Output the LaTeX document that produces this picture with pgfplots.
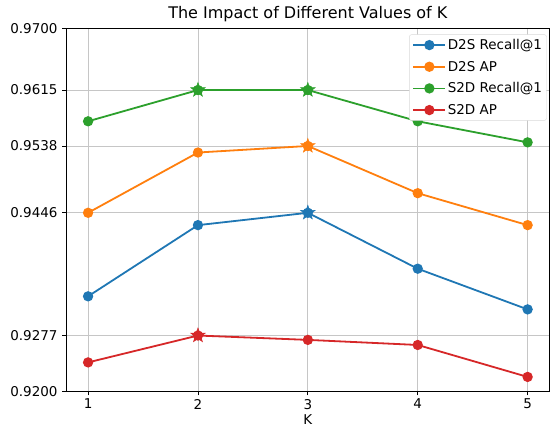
\documentclass[border=0pt]{standalone}
\usepackage{pgfplots}
\pgfplotsset{compat=1.18}
\usepackage{fontspec}
\setmainfont{DejaVu Sans}
\definecolor{tblue}{HTML}{1F77B4}
\definecolor{torange}{HTML}{FF7F0E}
\definecolor{tgreen}{HTML}{2CA02C}
\definecolor{tred}{HTML}{D62728}
\pgfdeclareplotmark{fstar}{%
  \pgfpathmoveto{\pgfpointpolar{90}{1.45\pgfplotmarksize}}%
  \pgfpathlineto{\pgfpointpolar{126}{0.58\pgfplotmarksize}}%
  \pgfpathlineto{\pgfpointpolar{162}{1.45\pgfplotmarksize}}%
  \pgfpathlineto{\pgfpointpolar{198}{0.58\pgfplotmarksize}}%
  \pgfpathlineto{\pgfpointpolar{234}{1.45\pgfplotmarksize}}%
  \pgfpathlineto{\pgfpointpolar{270}{0.58\pgfplotmarksize}}%
  \pgfpathlineto{\pgfpointpolar{306}{1.45\pgfplotmarksize}}%
  \pgfpathlineto{\pgfpointpolar{342}{0.58\pgfplotmarksize}}%
  \pgfpathlineto{\pgfpointpolar{18}{1.45\pgfplotmarksize}}%
  \pgfpathlineto{\pgfpointpolar{54}{0.58\pgfplotmarksize}}%
  \pgfpathclose
  \pgfusepathqfillstroke}
\pgfplotsset{
  ser/.style={color=#1, mark=*, line width=1.8bp, mark size=4.2bp,
    mark options={solid, fill=#1, draw=#1},
    legend image code/.code={\draw[line width=1.8bp, mark size=4.2bp, mark repeat=2, mark phase=2] plot coordinates {(0bp,0bp) (16bp,0bp) (32bp,0bp)};}},
  starm/.style={color=#1, only marks, mark=fstar, mark size=5.2bp, line width=0.5bp, forget plot},
}
\begin{document}
\begin{tikzpicture}
\begin{axis}[
  scale only axis,
  width=482bp, height=362bp,
  xmin=0.8, xmax=5.2, ymin=0.92, ymax=0.97,
  xtick={1,2,3,4,5},
  ytick={0.9200,0.9277,0.9446,0.9538,0.9615,0.9700},
  yticklabels={0.9200,0.9277,0.9446,0.9538,0.9615,0.9700},
  scaled y ticks=false,
  /pgf/number format/assume math mode=true,
  tick align=outside,
  tick pos=left,
  major tick length=4bp,
  tick style={black, line width=0.8bp},
  axis line style={line width=0.8bp},
  grid=major,
  grid style={gray!45, line width=0.8bp},
  ticklabel style={font=\fontsize{13.5}{15}\selectfont},
  yticklabel style={xshift=-1bp},
  xlabel={K},
  xlabel style={font=\fontsize{13.5}{15}\selectfont, yshift=1bp},
  title={The Impact of Different Values of K},
  title style={font=\fontsize{16}{18}\selectfont, yshift=-3bp},
  legend style={at={(0.994,0.983)}, anchor=north east, draw=gray!30, rounded corners=2bp,
    fill=white,
    font=\fontsize{13.5}{15}\selectfont, row sep=7bp, inner sep=3bp,
    nodes={inner sep=1.5bp}},
  legend cell align=left,
]
\addplot[ser=tblue] coordinates {(1,0.9331) (2,0.9429) (3,0.9446) (4,0.9369) (5,0.9313)};
\addlegendentry{D2S Recall@1}
\addplot[ser=torange] coordinates {(1,0.9446) (2,0.9529) (3,0.9538) (4,0.9473) (5,0.9429)};
\addlegendentry{D2S AP}
\addplot[ser=tgreen] coordinates {(1,0.9572) (2,0.9615) (3,0.9615) (4,0.9572) (5,0.9543)};
\addlegendentry{S2D Recall@1}
\addplot[ser=tred] coordinates {(1,0.9240) (2,0.9277) (3,0.9271) (4,0.9264) (5,0.9220)};
\addlegendentry{S2D AP}
\addplot[starm=tblue] coordinates {(3,0.9446)};
\addplot[starm=torange] coordinates {(3,0.9538)};
\addplot[starm=tgreen] coordinates {(2,0.9615) (3,0.9615)};
\addplot[starm=tred] coordinates {(2,0.9277)};
\end{axis}
\path ([xshift=-7bp]current bounding box.west) ([yshift=3bp]current bounding box.north) ([yshift=-4bp]current bounding box.south);
\end{tikzpicture}
\end{document}
